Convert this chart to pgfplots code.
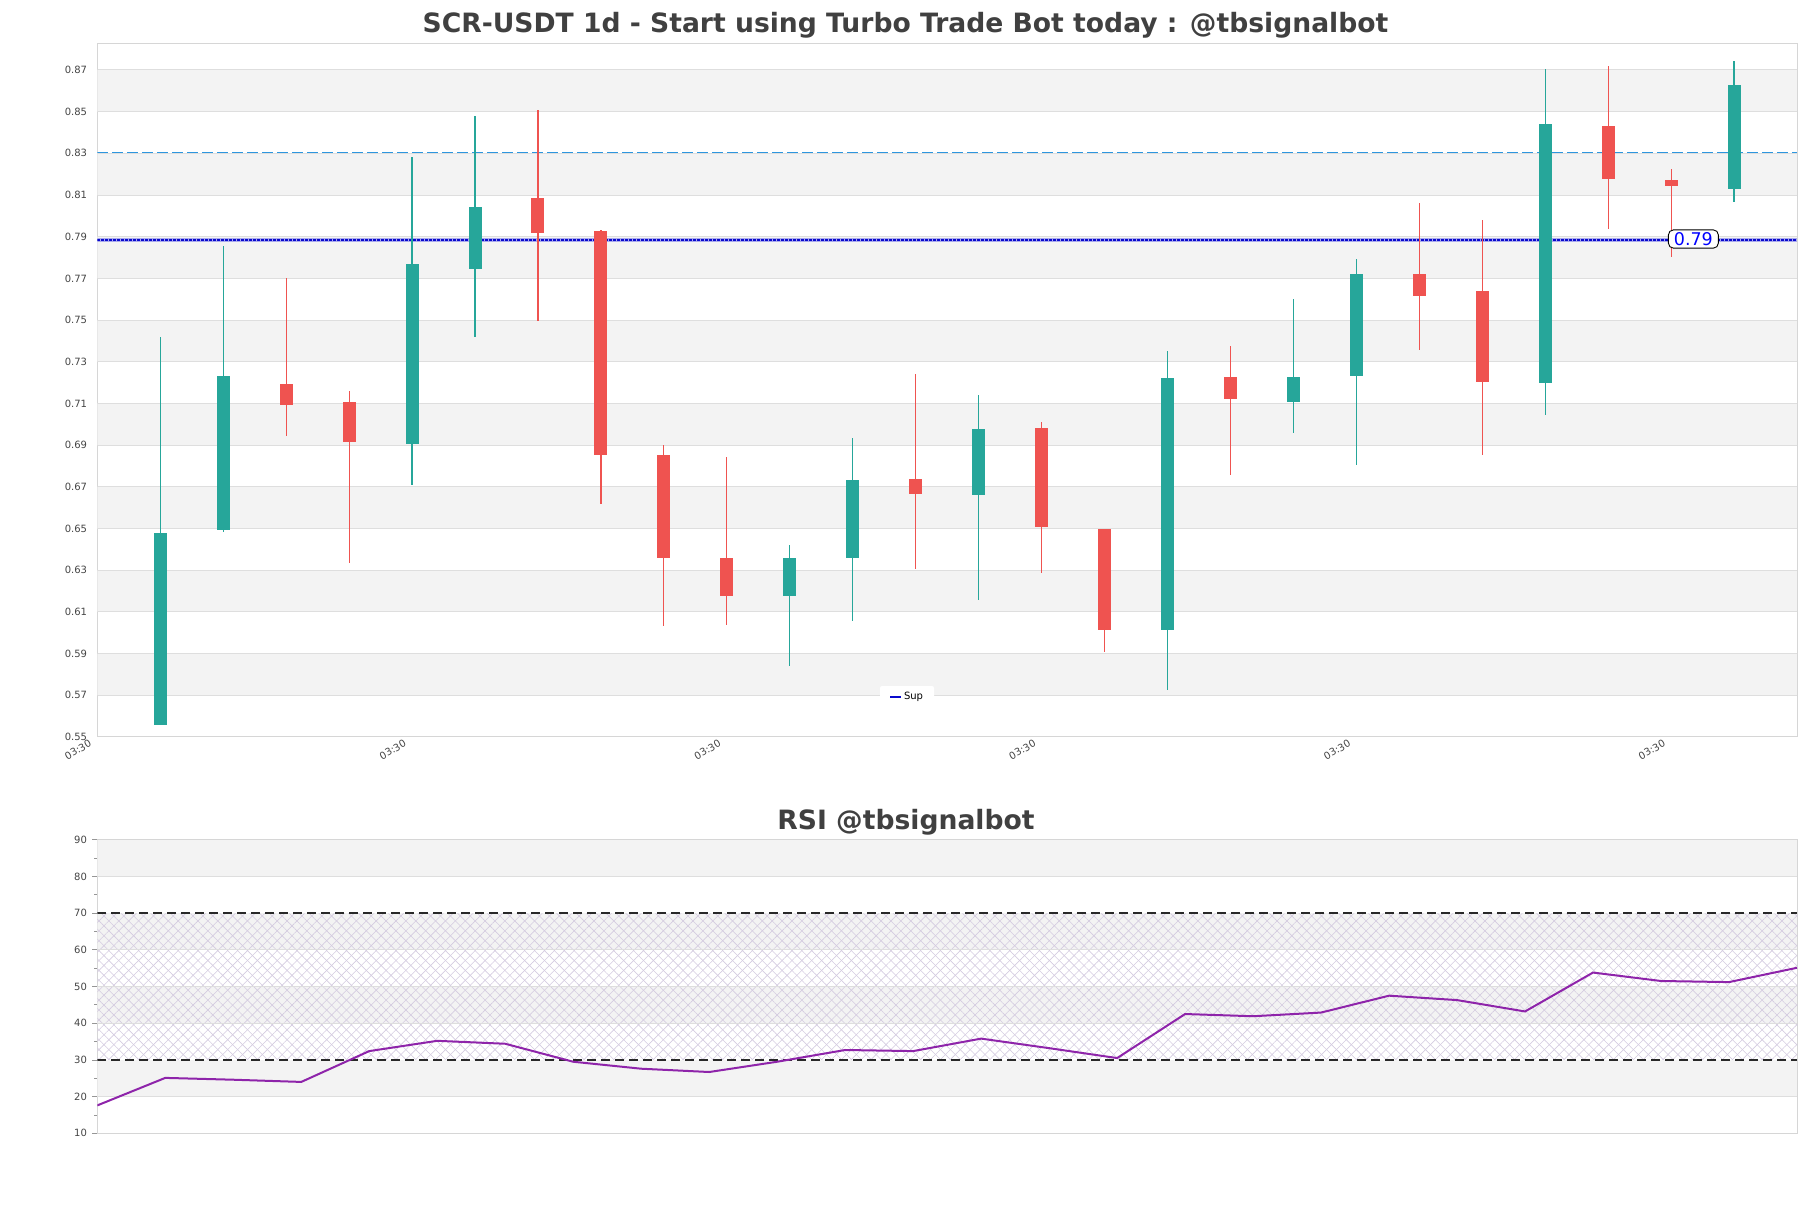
\documentclass[border=0pt]{standalone}
\usepackage{fontspec}
\setmainfont{DejaVu Sans}
\usepackage{pgfplots}
\usepackage{pgfplotstable}
\pgfplotsset{compat=1.18}
\usetikzlibrary{patterns.meta}

\definecolor{upc}{RGB}{38,166,154}
\definecolor{dnc}{RGB}{239,83,80}
\definecolor{band}{RGB}{243,243,243}
\definecolor{gridc}{RGB}{222,222,222}
\definecolor{framec}{RGB}{214,214,214}
\definecolor{titlec}{RGB}{64,64,64}
\definecolor{tickc}{RGB}{68,68,68}
\definecolor{tickm}{RGB}{150,150,150}
\definecolor{supc}{RGB}{10,10,205}
\definecolor{resc}{RGB}{45,150,222}
\definecolor{rsic}{RGB}{142,36,170}
\definecolor{hatchc}{RGB}{212,203,224}
\definecolor{dashc}{RGB}{40,40,40}

\pgfplotstableread{
x open high low close
1 0.5556 0.7421 0.5556 0.6481
2 0.6492 0.7858 0.6483 0.7233
5 0.6905 0.8284 0.6710 0.7770
6 0.7745 0.8477 0.7417 0.8045
11 0.6175 0.6423 0.5841 0.6361
12 0.6357 0.6935 0.6055 0.6734
14 0.6661 0.7143 0.6155 0.6980
17 0.6012 0.7353 0.5725 0.7220
19 0.7106 0.7603 0.6957 0.7229
20 0.7231 0.7794 0.6804 0.7723
23 0.7196 0.8706 0.7044 0.8443
26 0.8128 0.8745 0.8066 0.8629
}\upTable

\pgfplotstableread{
x open high low close
3 0.7194 0.7704 0.6944 0.7091
4 0.7109 0.7162 0.6333 0.6914
7 0.8085 0.8507 0.7496 0.7916
8 0.7929 0.7930 0.6616 0.6852
9 0.6854 0.6901 0.6031 0.6357
10 0.6361 0.6845 0.6036 0.6175
13 0.6740 0.7243 0.6305 0.6665
15 0.6980 0.7010 0.6286 0.6507
16 0.6500 0.6500 0.5907 0.6012
18 0.7229 0.7378 0.6755 0.7121
21 0.7719 0.8064 0.7355 0.7614
22 0.7638 0.7978 0.6852 0.7203
24 0.8432 0.8721 0.7935 0.8175
25 0.8173 0.8227 0.7805 0.8143
}\downTable

\pgfplotstableread{
x rsi
0 17.6
1 25.1
2 24.6
3 24.0
4 32.4
5 35.2
6 34.4
7 29.5
8 27.6
9 26.7
10 29.5
11 32.7
12 32.4
13 35.8
14 33.2
15 30.5
16 42.5
17 41.9
18 42.9
19 47.5
20 46.3
21 43.2
22 53.8
23 51.5
24 51.2
25 55.1
}\rsiTable

\newcommand{\tickfont}{\fontsize{10}{12}\selectfont}

\begin{document}
\begin{tikzpicture}
\useasboundingbox (0pt,0pt) rectangle (1811pt,1208pt);

% ---------------- main price panel ----------------
\begin{axis}[
  at={(97.3pt,471pt)}, anchor=south west,
  scale only axis, width=1699.7pt, height=693.7pt,
  xmin=0, xmax=27, ymin=0.55, ymax=0.8828,
  axis line style={framec, line width=1pt},
  xtick={0,5,10,15,20,25},
  xticklabels={03:30,03:30,03:30,03:30,03:30,03:30},
  ytick={0.55,0.57,0.59,0.61,0.63,0.65,0.67,0.69,0.71,0.73,0.75,0.77,0.79,0.81,0.83,0.85,0.87},
  major tick length=0pt,
  tick style={draw=none},
  /pgf/number format/assume math mode=true,
  ticklabel style={font=\tickfont, text=tickc},
  y tick label style={anchor=east, inner sep=0pt, xshift=-10pt,
    /pgf/number format/.cd, fixed, fixed zerofill, precision=2},
  x tick label style={xshift=-8.7pt, yshift=-2pt, rotate=30, anchor=north east, inner sep=0pt},
  legend image code/.code={\draw[#1] (0pt,0pt) -- (11pt,0pt);},
  legend style={at={(0.4764,0.0577)}, anchor=center, draw=none, fill=white,
    rounded corners=2pt, font=\tickfont, inner xsep=9pt, inner ysep=4.5pt},
  legend cell align=left,
]
% background bands
\fill[band] (axis cs:0,0.57) rectangle (axis cs:27,0.59);
\fill[band] (axis cs:0,0.61) rectangle (axis cs:27,0.63);
\fill[band] (axis cs:0,0.65) rectangle (axis cs:27,0.67);
\fill[band] (axis cs:0,0.69) rectangle (axis cs:27,0.71);
\fill[band] (axis cs:0,0.73) rectangle (axis cs:27,0.75);
\fill[band] (axis cs:0,0.77) rectangle (axis cs:27,0.79);
\fill[band] (axis cs:0,0.81) rectangle (axis cs:27,0.83);
\fill[band] (axis cs:0,0.85) rectangle (axis cs:27,0.87);
\pgfplotsinvokeforeach{0.57,0.59,0.61,0.63,0.65,0.67,0.69,0.71,0.73,0.75,0.77,0.79,0.81,0.83,0.85,0.87}{
  \draw[gridc, line width=1pt] (axis cs:0,#1) -- (axis cs:27,#1);
}

% resistance / support lines
\addplot[resc, line width=1.4pt, dash pattern=on 11pt off 4pt, forget plot] coordinates {(0,0.8305) (27,0.8305)};
\addplot[supc!35, line width=3.4pt, forget plot] coordinates {(0,0.7884) (27,0.7884)};
\addplot[supc, line width=2.4pt, dash pattern=on 3pt off 1pt, forget plot] coordinates {(0,0.7884) (27,0.7884)};

% wicks
\addplot[draw=none, mark=none, forget plot,
  error bars/.cd, y dir=both, y explicit, error mark=none,
  error bar style={draw=upc, line width=1.2pt, line cap=butt}]
  table[x=x, y expr={(\thisrow{high}+\thisrow{low})/2}, y error expr={(\thisrow{high}-\thisrow{low})/2}] {\upTable};
\addplot[draw=none, mark=none, forget plot,
  error bars/.cd, y dir=both, y explicit, error mark=none,
  error bar style={draw=dnc, line width=1.2pt, line cap=butt}]
  table[x=x, y expr={(\thisrow{high}+\thisrow{low})/2}, y error expr={(\thisrow{high}-\thisrow{low})/2}] {\downTable};
% bodies
\addplot[draw=none, mark=none, forget plot,
  error bars/.cd, y dir=both, y explicit, error mark=none,
  error bar style={draw=upc, line width=13pt, line cap=butt}]
  table[x=x, y expr={(\thisrow{open}+\thisrow{close})/2}, y error expr={abs(\thisrow{close}-\thisrow{open})/2}] {\upTable};
\addplot[draw=none, mark=none, forget plot,
  error bars/.cd, y dir=both, y explicit, error mark=none,
  error bar style={draw=dnc, line width=13pt, line cap=butt}]
  table[x=x, y expr={(\thisrow{open}+\thisrow{close})/2}, y error expr={abs(\thisrow{close}-\thisrow{open})/2}] {\downTable};

\addlegendimage{supc, line width=2pt}
\addlegendentry{Sup}

\node[draw=black, line width=0.9pt, fill=white, rounded corners=5pt, text=blue,
  inner xsep=5.5pt, inner ysep=2.5pt, anchor=west,
  font=\fontsize{17.5}{20}\selectfont] at (axis cs:24.95,0.7889) {0.79};
\end{axis}

% ---------------- RSI panel ----------------
\begin{axis}[
  at={(97.3pt,74.7pt)}, anchor=south west,
  scale only axis, width=1699.7pt, height=293.6pt,
  xmin=0, xmax=25, ymin=10, ymax=90,
  axis line style={framec, line width=1pt},
  xtick=\empty,
  ytick={10,20,30,40,50,60,70,80,90},
  minor ytick={15,25,35,45,55,65,75,85},
  ytick pos=left, tick align=outside,
  major tick length=5pt, minor tick length=3pt,
  tick style={draw=tickm, line width=0.8pt},
  /pgf/number format/assume math mode=true,
  ticklabel style={font=\tickfont, text=tickc},
  y tick label style={anchor=east, inner sep=0pt, xshift=-5.2pt},
]
\fill[band] (axis cs:0,20) rectangle (axis cs:25,30);
\fill[band] (axis cs:0,40) rectangle (axis cs:25,50);
\fill[band] (axis cs:0,60) rectangle (axis cs:25,70);
\fill[band] (axis cs:0,80) rectangle (axis cs:25,90);
\fill[pattern={Lines[angle=45, distance=7pt, line width=0.6pt]}, pattern color=hatchc] (axis cs:0,30) rectangle (axis cs:25,70);
\fill[pattern={Lines[angle=-45, distance=7pt, line width=0.6pt]}, pattern color=hatchc] (axis cs:0,30) rectangle (axis cs:25,70);
\pgfplotsinvokeforeach{20,40,50,60,80}{
  \draw[gridc, line width=1pt] (axis cs:0,#1) -- (axis cs:25,#1);
}
\addplot[dashc, line width=1.3pt, dash pattern=on 9pt off 5pt, forget plot] coordinates {(0,30) (25,30)};
\addplot[dashc, line width=1.3pt, dash pattern=on 9pt off 5pt, forget plot] coordinates {(0,70) (25,70)};
\addplot[rsic, line width=2pt, forget plot] table[x=x, y=rsi] {\rsiTable};
\end{axis}

\node[anchor=base, text=titlec, font=\fontsize{26.6}{32}\selectfont\bfseries] at (905.5pt,1175.7pt)
  {SCR-USDT 1d - Start using Turbo Trade Bot today : @tbsignalbot};
\node[anchor=base, text=titlec, font=\fontsize{26.6}{32}\selectfont\bfseries] at (906pt,378.7pt)
  {RSI @tbsignalbot};
\end{tikzpicture}
\end{document}
